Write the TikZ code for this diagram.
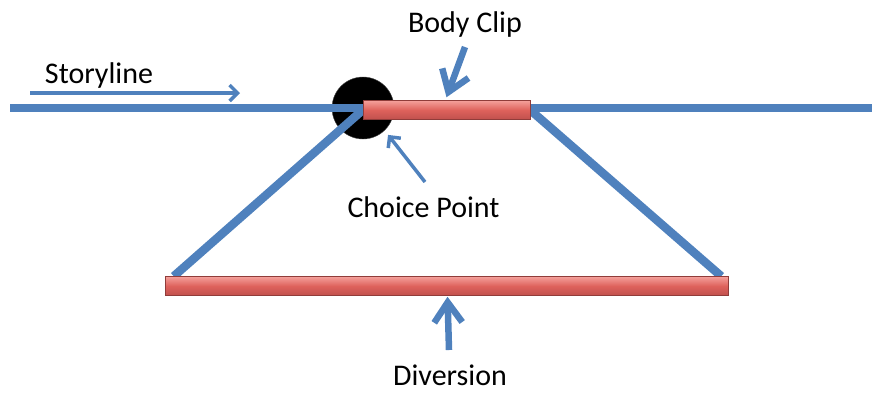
\documentclass[tikz,border=0pt]{standalone}
\usepackage{fontspec}
\setmainfont{Carlito}
\usepackage{tikz}
\usetikzlibrary{arrows.meta,positioning}
\definecolor{trackblue}{HTML}{4F81BD}
\definecolor{clipred}{HTML}{C0504D}
\definecolor{clipmid}{HTML}{DE625C}
\definecolor{cliplight}{HTML}{F4A09B}

\begin{document}
\begin{tikzpicture}[x=1pt,y=-1pt,
  bar/.style={draw=clipred!75!black,line width=0.5pt,top color=cliplight,
              bottom color=clipred,middle color=clipmid,
              minimum height=19pt,inner sep=0pt},
  track/.style={draw=trackblue,line width=8.5pt},
  lbl/.style={font=\fontsize{30}{34}\selectfont,inner sep=0pt,anchor=base},
  ptr/.style={draw=trackblue,line width=6.5pt,-{Straight Barb[length=20pt,width=28pt,line width=6.5pt]}},
  fine/.style={draw=trackblue,line width=3.5pt,-{Straight Barb[length=8pt,width=16pt,line width=3.5pt]}}
]
\useasboundingbox (0,0) rectangle (872,392);
% choice point sits behind the storyline
\node[circle,fill=black,draw=black!70,minimum size=62pt] (cp) at (363,108) {};
\coordinate (west) at (10,108);
\coordinate (east) at (872,108);
\draw[track] (west) -- (east);

\node[bar,minimum width=167pt] (clip) at (446.5,110) {};
\node[bar,minimum width=563pt] (div) at (446.5,286) {};
\draw[track] (clip.west) -- ([xshift=9pt]div.north west);
\draw[track] (clip.east) -- ([xshift=-7pt]div.north east);
% redraw bars on top of the branches
\node[bar,minimum width=167pt] at (clip) {};
\node[bar,minimum width=563pt] at (div) {};

\node[lbl] (story) at (99,83) {Storyline};
\coordinate (s0) at (30,93);
\coordinate (s1) at (240,93);
\draw[fine] (s0) -- (s1);

\node[lbl] (bodyclip) at (465,32) {Body Clip};
\coordinate (bc-tail) at (465,47);
\draw[ptr] (bc-tail) -- ([yshift=3pt]clip.north);

\node[lbl] (choice) at (423.5,217) {Choice Point};
\coordinate (cp-tail) at (425,182);
\draw[fine] (cp-tail) -- ([xshift=5pt,yshift=-3pt]cp.-50);

\node[lbl] (diversion) at (450,385) {Diversion};
\coordinate (dv-tail) at (449,350);
\draw[ptr] (dv-tail) -- ([xshift=1pt,yshift=-1pt]div.south);
\end{tikzpicture}
\end{document}
